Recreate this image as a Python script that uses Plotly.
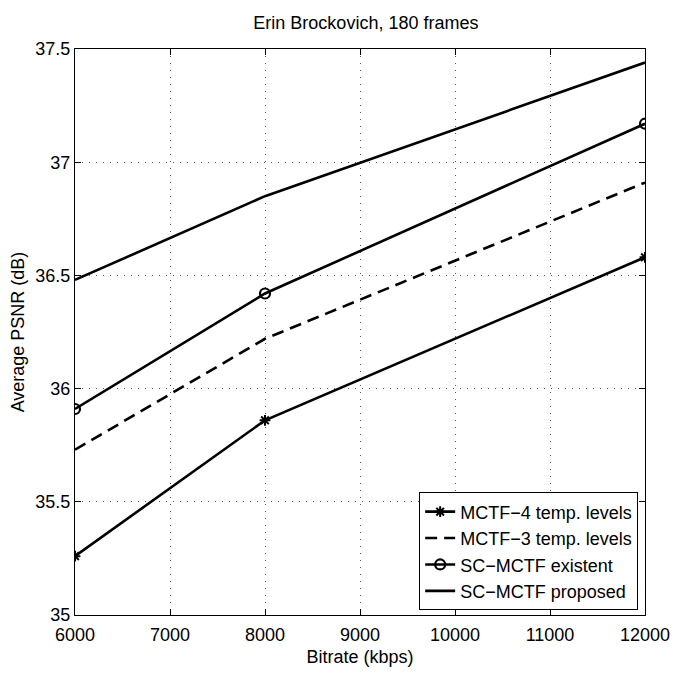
import plotly.graph_objects as go

# Bitrate points (kbps)
bitrate = [6000, 8000, 12000]

# Average PSNR (dB) for each coder
psnr_mctf4 = [35.26, 35.86, 36.58]
psnr_mctf3 = [35.73, 36.22, 36.91]
psnr_sc_existent = [35.91, 36.42, 37.17]
psnr_sc_proposed = [36.48, 36.85, 37.44]

series_names = [
    "MCTF\u22124 temp. levels",
    "MCTF\u22123 temp. levels",
    "SC\u2212MCTF existent",
    "SC\u2212MCTF proposed",
]

x_ticks = [6000, 7000, 8000, 9000, 10000, 11000, 12000]
x_ticktext = ["6000", "7000", "8000", "9000", "10000", "11000", "12000"]
y_ticks = [35, 35.5, 36, 36.5, 37, 37.5]
y_ticktext = ["35", "35.5", "36", "36.5", "37", "37.5"]

FONT = "Liberation Sans, Arial, Helvetica, sans-serif"
LW = 2.6

fig = go.Figure()

fig.add_trace(go.Scatter(
    x=bitrate, y=psnr_mctf4, name=series_names[0], mode="lines+markers",
    line=dict(color="black", width=LW),
    marker=dict(symbol="asterisk-open", size=9, color="black",
                line=dict(color="black", width=2)),
))
fig.add_trace(go.Scatter(
    x=bitrate, y=psnr_mctf3, name=series_names[1], mode="lines",
    line=dict(color="black", width=LW, dash="12px,7px"),
))
fig.add_trace(go.Scatter(
    x=bitrate, y=psnr_sc_existent, name=series_names[2], mode="lines+markers",
    line=dict(color="black", width=LW),
    marker=dict(symbol="circle-open", size=10, color="black",
                line=dict(color="black", width=2.2)),
))
fig.add_trace(go.Scatter(
    x=bitrate, y=psnr_sc_proposed, name=series_names[3], mode="lines",
    line=dict(color="black", width=LW),
))

axis_common = dict(
    showline=True, linecolor="black", linewidth=1, mirror="ticks",
    ticks="inside", ticklen=6, tickwidth=1, tickcolor="black",
    showgrid=True, gridcolor="#555555", gridwidth=1, griddash="1px,6px",
    zeroline=False,
    tickfont=dict(family=FONT, size=18, color="black"),
)

fig.update_xaxes(
    range=[6000, 12000], tickvals=x_ticks, ticktext=x_ticktext,
    ticklabelstandoff=3,
    title=dict(text="Bitrate (kbps)", font=dict(family=FONT, size=18, color="black"),
               standoff=6),
    **axis_common,
)
fig.update_yaxes(
    range=[35, 37.5], tickvals=y_ticks, ticktext=y_ticktext,
    title=dict(text="Average PSNR (dB)", font=dict(family=FONT, size=18, color="black"),
               standoff=6),
    **axis_common,
)

fig.update_layout(
    width=682, height=675,
    margin=dict(l=75, r=26, t=49, b=55),
    paper_bgcolor="white", plot_bgcolor="white",
    title=dict(text="Erin Brockovich, 180 frames", x=0.5365, xanchor="center",
               y=1 - 23 / 675, yanchor="middle",
               font=dict(family=FONT, size=18, color="black")),
    legend=dict(
        x=0.988, y=0.008, xanchor="right", yanchor="bottom",
        bgcolor="white", bordercolor="black", borderwidth=1,
        font=dict(family=FONT, size=18, color="black"),
        itemwidth=30, tracegroupgap=0,
    ),
    showlegend=True,
)

fig.write_html("out.html")
